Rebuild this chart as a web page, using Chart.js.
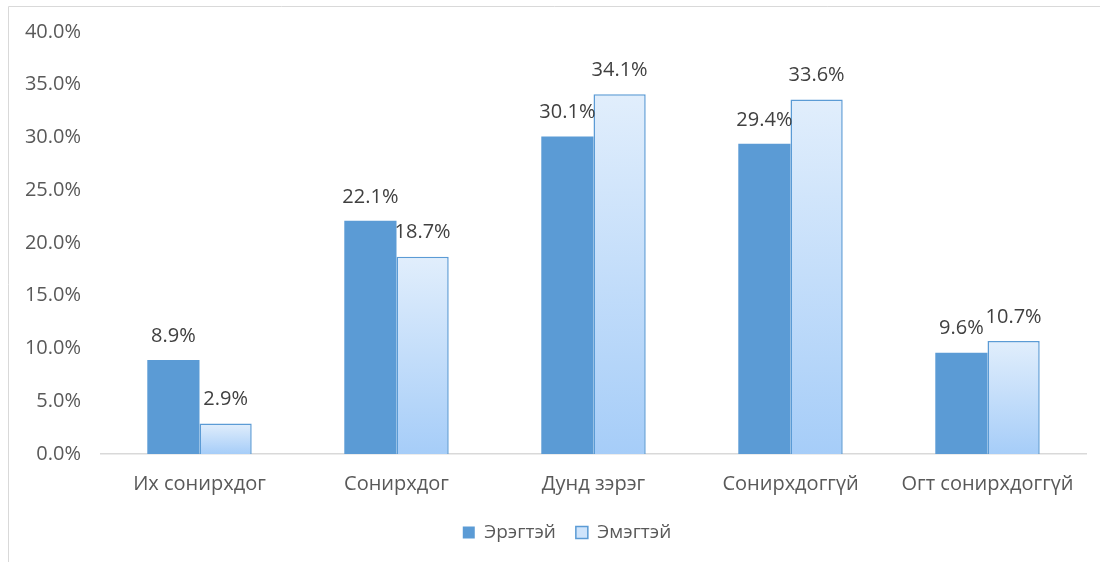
<!DOCTYPE html>
<html><head><meta charset="utf-8">
<script src="https://cdn.jsdelivr.net/npm/chart.js@4/dist/chart.umd.min.js"></script>
<style>html,body{margin:0;padding:0;background:#fff}#wrap{width:1100px;height:562px;position:relative}</style>
</head><body><div id="wrap"><canvas id="c" width="1100" height="562"></canvas></div>
<script>
const categories = ["Их сонирхдог","Сонирхдог","Дунд зэрэг","Сонирхдоггүй","Огт сонирхдоггүй"];
const seriesNames = ["Эрэгтэй","Эмэгтэй"];
const maleValues = [8.9,22.1,30.1,29.4,9.6];
const femaleValues = [2.9,18.7,34.1,33.6,10.7];
const yTicks = [0,5,10,15,20,25,30,35,40];

const FONT = '"Open Sans", "Noto Sans", sans-serif';

function femaleGradient(ctx){
  const chart = ctx.chart;
  const ys = chart.scales.y;
  if(!ys || ctx.type !== 'data') return '#cfe4fb';
  const v = ctx.parsed ? ctx.parsed.y : femaleValues[ctx.dataIndex];
  const top = ys.getPixelForValue(v), bot = ys.getPixelForValue(0);
  if(!isFinite(top) || !isFinite(bot) || top===bot) return '#cfe4fb';
  const g = chart.ctx.createLinearGradient(0, top, 0, bot);
  g.addColorStop(0, '#e1eefc');
  g.addColorStop(1, '#a6cdf8');
  return g;
}

const labelPlugin = {
  id:'valLabels',
  afterLayout(chart){
    if(chart.legend){ chart.legend.left += 24; chart.legend.right += 24; }
  },
  afterDatasetsDraw(chart){
    const c = chart.ctx;
    c.save();
    c.font = '20px ' + FONT;
    c.fillStyle = '#404040';
    c.textAlign = 'center';
    c.textBaseline = 'middle';
    chart.data.datasets.forEach((ds,i)=>{
      chart.getDatasetMeta(i).data.forEach((bar,j)=>{
        c.fillText(ds.data[j].toFixed(1)+'%', bar.x, bar.y - 24);
      });
    });
    c.restore();
  },
  beforeDraw(chart){
    const c = chart.ctx;
    c.save();
    c.strokeStyle = '#d9d9d9';
    c.lineWidth = 1;
    c.beginPath();
    c.moveTo(8.5, 562); c.lineTo(8.5, 6.5); c.lineTo(1100, 6.5);
    c.stroke();
    c.restore();
  }
};

new Chart(document.getElementById('c'), {
  type:'bar',
  data:{
    labels: categories,
    datasets:[
      {label: seriesNames[0], data: maleValues, backgroundColor:'#5b9bd5', borderColor:'#5b9bd5', borderWidth:0},
      {label: seriesNames[1], data: femaleValues, backgroundColor: femaleGradient, borderColor:'#5b9bd5', borderWidth:1.5}
    ]
  },
  options:{
    responsive:false, animation:false,
    layout:{padding:{top:26, right:14, left:0, bottom:10}},
    datasets:{bar:{categoryPercentage:0.53, barPercentage:1}},
    plugins:{
      tooltip:{enabled:false},
      legend:{position:'bottom', labels:{font:{size:19, family:FONT}, color:'#595959', boxWidth:12, boxHeight:12, padding:20,
        generateLabels(chart){
          return chart.data.datasets.map((ds,i)=>({text:ds.label, fillStyle: i===0?'#5b9bd5':'#cfe4fb', strokeStyle:'#5b9bd5', lineWidth: i===0?0:1.5, datasetIndex:i, fontColor:'#595959'}));
        }}}
    },
    scales:{
      x:{grid:{display:false, drawTicks:false}, border:{display:true, color:'#d9d9d9', width:1.5},
         ticks:{font:{size:20, family:FONT}, color:'#595959', padding:18},
         afterFit(s){ s.height = 49; }},
      y:{min:0, max:40, grid:{display:false, drawTicks:false}, border:{display:false},
         afterBuildTicks(s){ s.ticks = yTicks.map(v=>({value:v})); },
         ticks:{font:{size:20, family:FONT}, color:'#595959', padding:20, callback:v=>v.toFixed(1)+'%'},
         afterFit(s){ s.width = 101; }}
    }
  },
  plugins:[labelPlugin]
});
</script></body></html>
